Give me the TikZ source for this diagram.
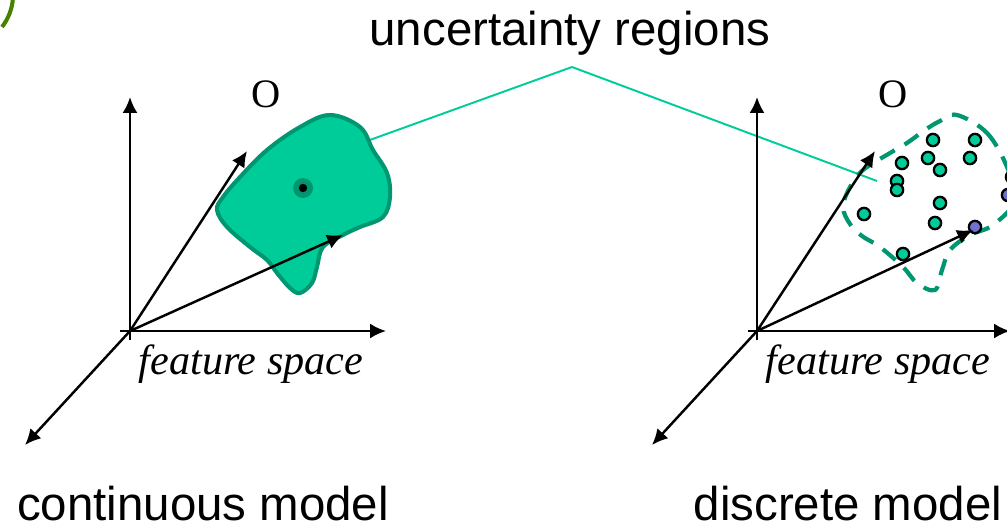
\documentclass[tikz,border=0pt]{standalone}
\usepackage{fontspec}
\setmainfont{Liberation Serif}
\setsansfont{Liberation Sans}
\usetikzlibrary{arrows.meta}
\definecolor{regfill}{RGB}{0,204,153}
\definecolor{regedge}{RGB}{0,150,112}
\definecolor{linkcol}{RGB}{0,204,153}
\definecolor{bluedot}{RGB}{112,112,208}
\definecolor{tagcol}{RGB}{70,130,0}
\tikzset{
  axis/.style={->, line width=1.4pt},
  link/.style={linkcol, line width=1.1pt},
  region/.style={draw=regedge, fill=regfill, line width=2.3pt},
  discregion/.style={draw=regedge, line width=2.4pt, dash pattern=on 9.5pt off 6.5pt},
  sample/.style={draw=black, fill=regfill, line width=1.3pt},
  bigtext/.style={font=\sffamily\fontsize{27}{32}\selectfont, anchor=base},
  axtext/.style={font=\itshape\fontsize{24}{28}\selectfont, anchor=base},
  otext/.style={font=\fontsize{23}{27}\selectfont, anchor=base}
}
\begin{document}
\begin{tikzpicture}[x=0.02cm, y=-0.02cm, >={Latex[length=9pt,width=8.5pt]}]
  \useasboundingbox (0,0) rectangle (1007,528);
  \clip (0,0) rectangle (1007,528);
  % label and its two lines
  \node[bigtext] (unc) at (570,45) {uncertainty regions};
  \coordinate (peak) at (572,67);
  \coordinate (lend) at (367,141);
  \coordinate (rend) at (877,181);
  \draw[link] (lend) -- (peak) -- (rend);
  % corner mark
  \draw[tagcol, line width=2.3pt] (13,-2) .. controls (12,10) and (8,19) .. (2,27);

  % continuous model
  \coordinate (o1) at (130,331);
  \draw[line width=1.4pt] (120,331) -- (o1) -- (130,340);
  \draw[region] plot[smooth cycle, tension=0.6] coordinates {(330,115) (360,127) (373,150) (387,173) (390,197) (383,217) (360,227) (343,235) (323,247) (317,267) (312,283) (300,293) (290,288) (277,273) (267,260) (250,247) (227,227) (217,210) (223,197) (240,177) (267,150) (300,127)};
  \fill[regedge] (303,188) circle (5.7pt);
  \fill[black] (303,188) circle (2.4pt);
  \draw[axis] (o1) -- (130,97);
  \draw[axis] (o1) -- (386,331);
  \draw[axis] (o1) -- (25,445);
  \draw[axis] (o1) -- (247,151);
  \draw[axis] (o1) -- (343,235);
  \node[otext] (o1lab) at (266,107) {O};
  \node[axtext] (fs1) at (251,374) {feature space};
  \node[bigtext] (cm) at (203,520) {continuous model};

  % discrete model
  \coordinate (o2) at (757,331);
  \draw[line width=1.4pt] (748,331) -- (o2) -- (757,340);
  \draw[discregion] plot[smooth cycle, tension=0.6] coordinates {(957,115) (987,133) (1007,167) (1015,200) (993,225) (970,235) (950,250) (942,270) (935,290) (917,283) (903,267) (880,247) (862,236) (850,224) (843,207) (850,187) (863,170) (890,153) (907,143) (925,130) (940,121)};
  \foreach \p in {(933,140),(975,140),(902,163),(928,158),(940,170),(970,158),(897,181),(897,190),(940,203),(864,214),(935,223),(903,254),(1012,177)}
    \draw[sample] \p circle (3.5pt);
  \foreach \p in {(975,227),(1008,195)}
    \draw[sample, fill=bluedot] \p circle (3.5pt);
  \draw[axis] (o2) -- (757,97);
  \draw[axis] (o2) -- (1010,331);
  \draw[axis] (o2) -- (652,445);
  \draw[axis] (o2) -- (875,151);
  \draw[axis] (o2) -- (973,230);
  \node[otext] (o2lab) at (893,107) {O};
  \node[axtext] (fs2) at (878,374) {feature space};
  \node[bigtext] (dm) at (848,520) {discrete model};
\end{tikzpicture}
\end{document}
